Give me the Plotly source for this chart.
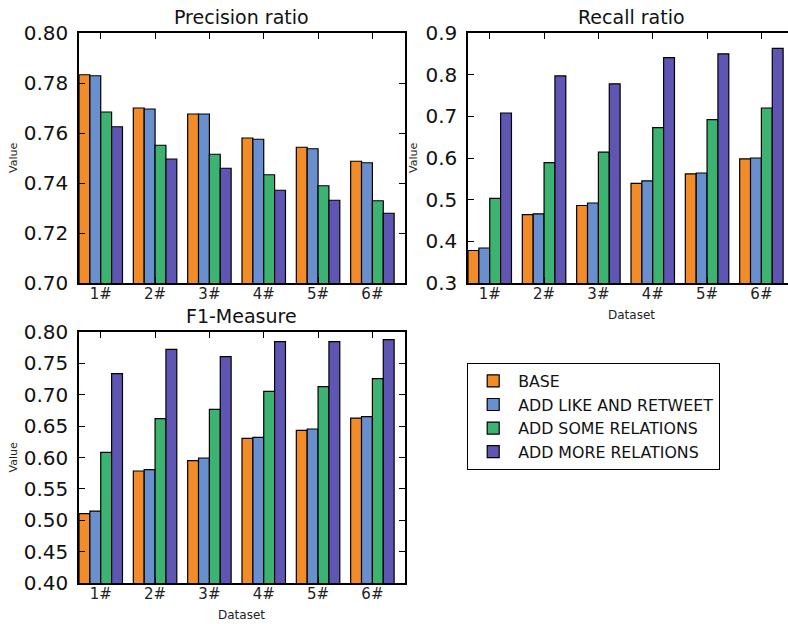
import plotly.graph_objects as go

datasets = ["1#", "2#", "3#", "4#", "5#", "6#"]
series_names = ["BASE", "ADD LIKE AND RETWEET", "ADD SOME RELATIONS", "ADD MORE RELATIONS"]
colors = ["#F28C28", "#6A8FCF", "#3CB371", "#5F55B3"]

precision = [
    [0.7833, 0.7700, 0.7676, 0.7580, 0.7543, 0.7487],
    [0.7829, 0.7696, 0.7676, 0.7575, 0.7537, 0.7481],
    [0.7684, 0.7551, 0.7515, 0.7433, 0.7389, 0.7329],
    [0.7625, 0.7496, 0.7459, 0.7371, 0.7331, 0.7279],
]
recall = [
    [0.378, 0.464, 0.486, 0.539, 0.562, 0.598],
    [0.384, 0.466, 0.492, 0.545, 0.564, 0.600],
    [0.503, 0.589, 0.614, 0.673, 0.692, 0.720],
    [0.708, 0.797, 0.778, 0.841, 0.850, 0.863],
]
f1 = [
    [0.5105, 0.5785, 0.5950, 0.6305, 0.6433, 0.6629],
    [0.5147, 0.5806, 0.5992, 0.6321, 0.6454, 0.6651],
    [0.6082, 0.6619, 0.6768, 0.7054, 0.7129, 0.7256],
    [0.7336, 0.7724, 0.7607, 0.7846, 0.7846, 0.7878],
]

W, H = 788, 624
FONT = "DejaVu Sans"

def px_x(x):
    return x / W

def px_y(y):
    return 1 - y / H

panels = [
    # (data, xaxis, yaxis, x0, x1, ytop, ybot, yrange, dtick, fmt, title, show xlabel, right spine px, ylabel px)
    (precision, "x", "y", 79, 405, 33, 283, [0.70, 0.80], 0.02, ".2f", "Precision ratio", False, 405, 13),
    (recall, "x2", "y2", 468, 788, 33, 283, [0.3, 0.9], 0.1, ".1f", "Recall ratio", True, 794, 413),
    (f1, "x3", "y3", 79, 405, 332, 583, [0.40, 0.80], 0.05, ".2f", "F1-Measure", True, 405, 13),
]

fig = go.Figure()
annotations = []
layout = {}

for pi, (data, xa, ya, x0, x1, yt, yb, yr, dt, fmt, title, showx, full_x1, ylx) in enumerate(panels):
    for si in range(4):
        fig.add_trace(go.Bar(
            x=datasets, y=data[si], name=series_names[si],
            marker=dict(color=colors[si], line=dict(color="black", width=1.2)),
            xaxis=xa, yaxis=ya, showlegend=(pi == 0), legendgroup=series_names[si],
        ))
    # visible part of the category range (recall panel is cut by the image edge)
    xr_right = -0.4 + 6.0 * (x1 - x0) / (full_x1 - x0)
    xkey = "xaxis" if xa == "x" else "xaxis" + xa[1:]
    ykey = "yaxis" if ya == "y" else "yaxis" + ya[1:]
    layout[xkey] = dict(
        domain=[px_x(x0), px_x(x1)], anchor=ya, type="category", automargin=False,
        range=[-0.4, xr_right], showline=True, linecolor="black", linewidth=1.5,
        mirror="ticks", ticks="inside", ticklen=6, tickcolor="black",
        tickfont=dict(family=FONT, size=15, color="#222"), showgrid=False, zeroline=False,
        ticklabelstandoff=-4,
    )
    layout[ykey] = dict(
        domain=[px_y(yb), px_y(yt)], anchor=xa, range=yr, dtick=dt, tick0=yr[0], automargin=False,
        tickformat=fmt, showline=True, linecolor="black", linewidth=1.5,
        mirror="ticks" if full_x1 == x1 else False, ticks="inside", ticklen=6, tickcolor="black",
        tickfont=dict(family=FONT, size=20, color="#111"), showgrid=False, zeroline=False,
        ticklabelstandoff=5,
    )
    cx = (x0 + full_x1) / 2
    annotations.append(dict(
        text=title, x=px_x(cx), y=px_y(yt - 16), xref="paper", yref="paper",
        showarrow=False, font=dict(family=FONT, size=19, color="#111"), xanchor="center", yanchor="middle",
    ))
    annotations.append(dict(
        text="Value", x=px_x(ylx), y=px_y((yt + yb) / 2), xref="paper", yref="paper",
        showarrow=False, textangle=-90, font=dict(family=FONT, size=11, color="#222"),
        xanchor="center", yanchor="middle",
    ))
    if showx:
        annotations.append(dict(
            text="Dataset", x=px_x(cx), y=px_y(yb + 32), xref="paper", yref="paper",
            showarrow=False, font=dict(family=FONT, size=12, color="#222"),
            xanchor="center", yanchor="middle",
        ))

fig.update_layout(
    width=W, height=H, margin=dict(l=0, r=0, t=0, b=0, autoexpand=False),
    paper_bgcolor="white", plot_bgcolor="white",
    barmode="group", bargap=0.2, bargroupgap=0,
    annotations=annotations,
    legend=dict(
        x=px_x(467), y=px_y(363), xanchor="left", yanchor="top",
        bordercolor="black", borderwidth=1.2, bgcolor="white",
        font=dict(family=FONT, size=15.8, color="#111"),
        itemwidth=40, tracegroupgap=0,
    ),
    **layout,
)

fig.write_html("out.html", config={"displayModeBar": False},
               post_script="document.body.style.margin='0';")
